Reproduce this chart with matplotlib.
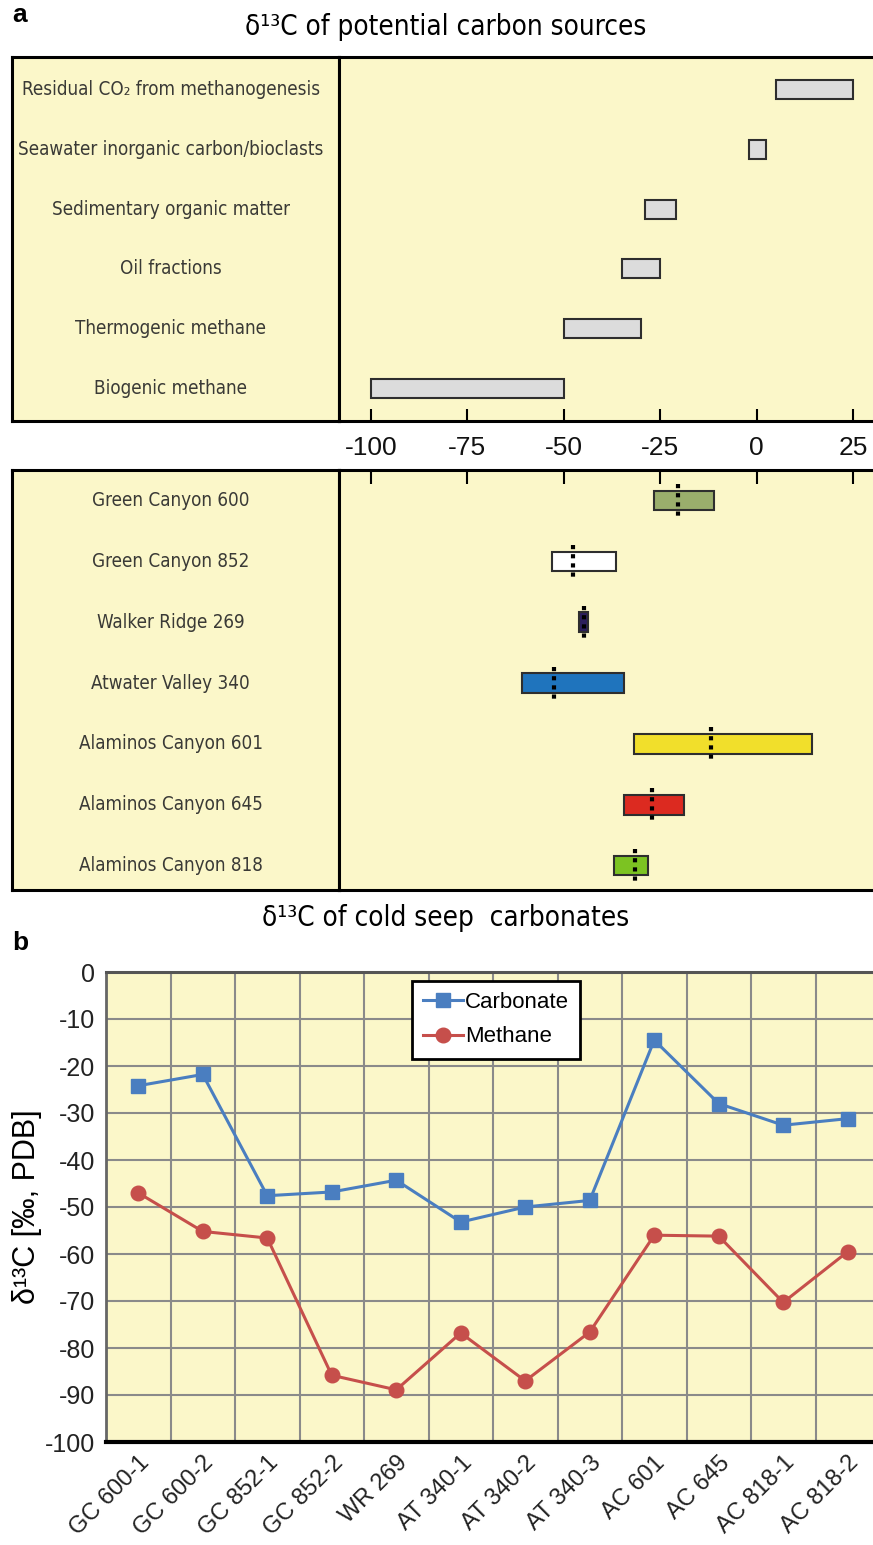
import matplotlib
matplotlib.use("Agg")
import matplotlib.pyplot as plt

# --- data ---
source_names = ["Residual CO\u2082 from methanogenesis", "Seawater inorganic carbon/bioclasts",
                "Sedimentary organic matter", "Oil fractions", "Thermogenic methane",
                "Biogenic methane"]
source_lo = [5, -2, -29, -35, -50, -100]
source_hi = [25, 2.5, -21, -25, -30, -50]

seep_names = ["Green Canyon 600", "Green Canyon 852", "Walker Ridge 269", "Atwater Valley 340",
              "Alaminos Canyon 601", "Alaminos Canyon 645", "Alaminos Canyon 818"]
seep_lo = [-26.6, -53, -46, -60.7, -31.8, -34.4, -37]
seep_hi = [-11, -36.5, -43.8, -34.4, 14.3, -18.8, -28.2]
seep_med = [-20.4, -47.5, -44.7, -52.5, -11.8, -27.2, -31.6]
seep_colors = ["#9aae6c", "#ffffff", "#2c1f5c", "#1f74bd", "#f1df2b", "#dc2a20", "#7cc322"]

xticks_a = [-100, -75, -50, -25, 0, 25]

samples = ["GC 600-1", "GC 600-2", "GC 852-1", "GC 852-2", "WR 269", "AT 340-1",
           "AT 340-2", "AT 340-3", "AC 601", "AC 645", "AC 818-1", "AC 818-2"]
carbonate = [-24.2, -21.8, -47.6, -46.8, -44.3, -53.2, -50.0, -48.6, -14.5, -28.0, -32.6, -31.2]
methane = [-47.0, -55.2, -56.6, -85.8, -88.9, -76.8, -87.0, -76.6, -56.0, -56.2, -70.3, -59.5]

W, H = 873, 1545
BG = "#fbf7c9"
SANS = ["Liberation Sans", "DejaVu Sans"]
plt.rcParams['font.family'] = SANS
plt.rcParams['axes.unicode_minus'] = False


def px(l, t, r, b):
    return [l / W, 1 - b / H, (r - l) / W, (b - t) / H]


fig = plt.figure(figsize=(W / 100, H / 100), dpi=100)


def label_axes(rect, names, ylim):
    ax = fig.add_axes(rect)
    ax.set_facecolor(BG)
    ax.set_xlim(0, 1)
    ax.set_ylim(*ylim)
    ax.set_xticks([])
    ax.set_yticks([])
    for s in ax.spines.values():
        s.set_linewidth(2.2)
    for i, n in enumerate(names):
        ax.text(0.485, i, n, ha='center', va='center', fontsize=13.5,
                family='DejaVu Sans', fontstretch='condensed', color='#3a3a36')
    return ax


def data_axes(rect, ylim):
    ax = fig.add_axes(rect)
    ax.set_facecolor(BG)
    ax.set_xlim(-108.25, 32)
    ax.set_ylim(*ylim)
    ax.set_yticks([])
    ax.set_xticks(xticks_a)
    for s in ax.spines.values():
        s.set_linewidth(2.2)
    return ax


# --- panel a, top: potential carbon sources ---
ylim_top = (5.55, -0.55)
label_axes(px(12, 57, 339, 421), source_names, ylim_top)
ax1 = data_axes(px(339, 57, 880, 421), ylim_top)
ax1.barh(range(len(source_names)), [h - l for l, h in zip(source_lo, source_hi)],
         left=source_lo, height=0.32, color='#dcdcdc', edgecolor='#2e2e2e', linewidth=1.5)
ax1.tick_params(axis='x', direction='in', length=9, width=1.5, labelsize=19, pad=11,
                labelcolor='#111111')

fig.text(0.51, 1 - 27 / H, "\u03b4\u00b9\u00b3C of potential carbon sources", ha='center',
         va='center', fontsize=20, family='DejaVu Sans', fontstretch='condensed')
fig.text(12 / W, 1 - 15 / H, "a", ha='left', va='center', fontsize=19, fontweight='bold')

# --- panel a, bottom: cold seep carbonates ---
ylim_mid = (6.4, -0.5)
label_axes(px(12, 470, 339, 890), seep_names, ylim_mid)
ax2 = data_axes(px(339, 470, 880, 890), ylim_mid)
ax2.barh(range(len(seep_names)), [h - l for l, h in zip(seep_lo, seep_hi)],
         left=seep_lo, height=0.32, color=seep_colors, edgecolor='#2e2e2e', linewidth=1.5)
ax2.vlines(seep_med, [i - 0.27 for i in range(len(seep_med))],
           [i + 0.27 for i in range(len(seep_med))], colors='black', linewidth=3,
           linestyles=[(0, (1, 1.2))])
ax2.tick_params(axis='x', direction='in', length=10, width=1.5, bottom=False, top=True,
                labelbottom=False)

fig.text(0.51, 1 - 918 / H, "\u03b4\u00b9\u00b3C of cold seep  carbonates", ha='center',
         va='center', fontsize=20, family='DejaVu Sans', fontstretch='condensed')
fig.text(12 / W, 1 - 943 / H, "b", ha='left', va='center', fontsize=19, fontweight='bold')

# --- panel b: line chart ---
ax3 = fig.add_axes(px(106, 972, 880, 1442))
ax3.set_facecolor(BG)
x = list(range(len(samples)))
ax3.plot(x, carbonate, color='#4a7ec0', marker='s', markersize=10.5, linewidth=2.2,
         label='Carbonate', zorder=3)
ax3.plot(x, methane, color='#c64f4b', marker='o', markersize=10.5, linewidth=2.2,
         label='Methane', zorder=3)
ax3.set_xlim(-0.5, 11.5)
ax3.set_ylim(-100, 0)
ax3.set_yticks(range(-100, 1, 10))
ax3.set_xticks(x)
ax3.set_xticklabels(samples, rotation=45, ha='right', va='top', rotation_mode='anchor',
                    fontsize=17)
ax3.set_xticks([i + 0.5 for i in range(-1, len(samples))], minor=True)
ax3.grid(True, which='minor', axis='x', color='#8a8a8a', linewidth=1.5)
ax3.grid(True, which='major', axis='y', color='#8a8a8a', linewidth=1.5)
ax3.tick_params(axis='both', which='both', length=0, labelcolor='#222222')
ax3.tick_params(axis='y', pad=8, labelsize=18)
ax3.tick_params(axis='x', pad=7)
ax3.spines['bottom'].set_linewidth(3)
ax3.spines['bottom'].set_color('black')
ax3.spines['top'].set_linewidth(2.2)
ax3.spines['top'].set_color('#555555')
ax3.spines['left'].set_linewidth(2)
ax3.spines['left'].set_color('#666666')
ax3.set_ylabel("\u03b4\u00b9\u00b3C [\u2030, PDB]", fontsize=22, labelpad=2)

leg = ax3.legend(loc='upper left', bbox_to_anchor=((412 - 106) / 774, 1 - (981 - 972) / 470),
                 fontsize=16, frameon=True, fancybox=False, handlelength=1.8,
                 handletextpad=0.1, borderpad=0.5, labelspacing=0.6, borderaxespad=0)
leg.get_frame().set_edgecolor('black')
leg.get_frame().set_linewidth(2)
leg.get_frame().set_alpha(1)

fig.savefig("out.png", dpi=100, facecolor='white')
